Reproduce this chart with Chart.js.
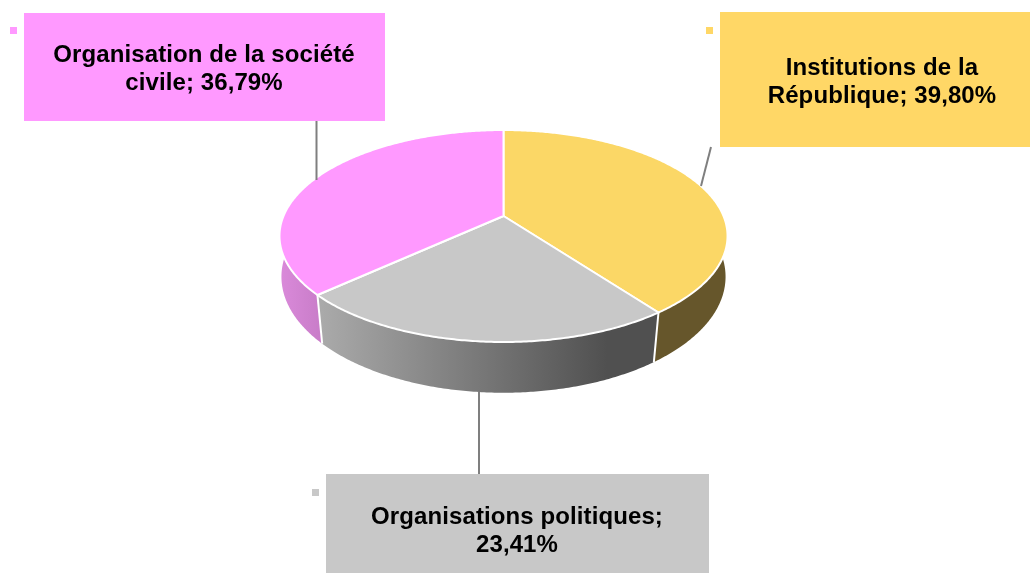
<!DOCTYPE html>
<html>
<head>
<meta charset="utf-8">
<style>
  html, body { margin: 0; padding: 0; background: #fff; }
  canvas { display: block; }
</style>
<script src="https://cdn.jsdelivr.net/npm/chart.js@4"></script>
</head>
<body>
<canvas id="chart" width="1030" height="573"></canvas>
<script>
var categories = ['Institutions de la République', 'Organisations politiques', 'Organisation de la société civile'];
var values = [39.80, 23.41, 36.79];
var faceColors = ['#FBD766', '#C8C8C8', '#FF99FF'];
var labelLines = [
  ['Institutions de la', 'République; 39,80%'],
  ['Organisations politiques;', '23,41%'],
  ['Organisation de la société', 'civile; 36,79%']
];

// boites d'etiquettes : x, y, largeur, hauteur, centre du texte, lignes de base
var boxes = [
  { x: 720, y: 12, w: 310, h: 135, cx: 882, base: [75, 103], key: [706, 27], color: '#FFD766', leader: [711, 147, 701, 186] },
  { x: 326, y: 474, w: 383, h: 99, cx: 517, base: [524, 552], key: [312, 489], color: '#C8C8C8', leader: [479, 392, 479, 474] },
  { x: 24, y: 13, w: 361, h: 108, cx: 204, base: [62, 90], key: [10, 27], color: '#FF99FF', leader: [316.5, 121, 316.5, 180] }
];

// perspective : face du haut et base n'ont pas le meme point de fuite
var topFace = { k: 0.1887, sx: 220 / 216, sy: 102.2 / 216, dy: 0 };
var baseFace = { k: 0.16, sx: 219.2 / 216, sy: 113 / 216, dy: 42.2 };

function project(arc, angle, face) {
  var x = Math.cos(angle), y = Math.sin(angle);
  var w = 1 - face.k * y;
  return {
    x: arc.x + face.sx * arc.outerRadius * x / w,
    y: arc.y + face.dy + face.sy * arc.outerRadius * y / w
  };
}

function arcPoints(arc, face) {
  var pts = [];
  var n = Math.ceil((arc.endAngle - arc.startAngle) / 0.01);
  for (var i = 0; i <= n; i++) {
    pts.push(project(arc, arc.startAngle + (arc.endAngle - arc.startAngle) * i / n, face));
  }
  return pts;
}

function wallFill(ctx, index, top) {
  var xs = top.map(function(p) { return p.x; });
  var left = Math.min.apply(null, xs), right = Math.max.apply(null, xs);
  var g = ctx.createLinearGradient(left, 0, right, 0);
  if (index === 1) {
    g.addColorStop(0, '#ABABAB');
    g.addColorStop(0.85, '#505050');
    g.addColorStop(1, '#505050');
  } else if (index === 2) {
    g.addColorStop(0, '#DA8ADA');
    g.addColorStop(0.19, '#C87CC8');
    g.addColorStop(1, '#C87CC8');
  } else {
    g.addColorStop(0, '#66562B');
    g.addColorStop(1, '#66562B');
  }
  return g;
}

// tranches dessinees a partir des arcs calcules par Chart.js
var pie3d = {
  id: 'pie3d',
  beforeDatasetsDraw: function(chart) {
    var ctx = chart.ctx;
    var arcs = chart.getDatasetMeta(0).data;
    ctx.save();
    ctx.lineJoin = 'round';

    // parois
    [2, 0, 1].forEach(function(i) {
      var arc = arcs[i];
      var top = arcPoints(arc, topFace);
      var base = arcPoints(arc, baseFace);
      ctx.beginPath();
      top.forEach(function(p, j) { j ? ctx.lineTo(p.x, p.y) : ctx.moveTo(p.x, p.y); });
      base.reverse().forEach(function(p) { ctx.lineTo(p.x, p.y); });
      ctx.closePath();
      ctx.fillStyle = wallFill(ctx, i, top);
      ctx.fill();
    });

    // aretes verticales blanches
    ctx.strokeStyle = '#fff';
    ctx.lineWidth = 2;
    [arcs[0].endAngle, arcs[1].endAngle].forEach(function(a) {
      var p = project(arcs[0], a, topFace);
      var q = project(arcs[0], a, baseFace);
      ctx.beginPath();
      ctx.moveTo(p.x, p.y);
      ctx.lineTo(q.x, q.y);
      ctx.stroke();
    });

    // face superieure
    arcs.forEach(function(arc, i) {
      var top = arcPoints(arc, topFace);
      ctx.beginPath();
      ctx.moveTo(arc.x, arc.y);
      top.forEach(function(p) { ctx.lineTo(p.x, p.y); });
      ctx.closePath();
      ctx.fillStyle = faceColors[i];
      ctx.fill();
      ctx.lineWidth = 2;
      ctx.strokeStyle = '#fff';
      ctx.stroke();
    });
    ctx.restore();
    return false;
  },
  afterDraw: function(chart) {
    var ctx = chart.ctx;
    ctx.save();
    boxes.forEach(function(b, i) {
      ctx.strokeStyle = '#7F7F7F';
      ctx.lineWidth = 2;
      ctx.beginPath();
      ctx.moveTo(b.leader[0], b.leader[1]);
      ctx.lineTo(b.leader[2], b.leader[3]);
      ctx.stroke();

      ctx.fillStyle = b.color;
      ctx.fillRect(b.x, b.y, b.w, b.h);
      ctx.fillRect(b.key[0], b.key[1], 7, 7);

      ctx.fillStyle = '#000';
      ctx.font = 'bold 24px "Liberation Sans"';
      ctx.letterSpacing = '0.1px';
      ctx.textAlign = 'center';
      labelLines[i].forEach(function(line, j) {
        ctx.fillText(line, b.cx, b.base[j]);
      });
    });
    ctx.restore();
  }
};

new Chart(document.getElementById('chart').getContext('2d'), {
  type: 'pie',
  data: {
    labels: categories,
    datasets: [{ data: values, backgroundColor: faceColors, borderWidth: 0 }]
  },
  options: {
    responsive: false,
    animation: false,
    layout: { padding: { right: 23, bottom: 141 } },
    plugins: { legend: { display: false }, tooltip: { enabled: false } }
  },
  plugins: [pie3d]
});
</script>
</body>
</html>
